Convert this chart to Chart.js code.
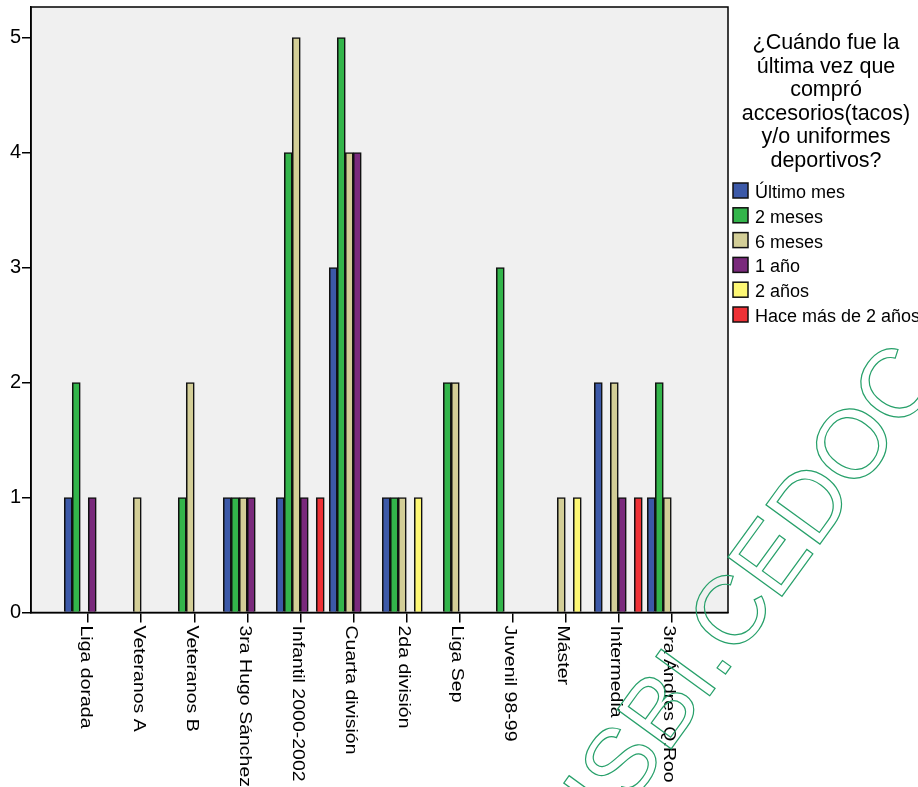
<!DOCTYPE html>
<html><head><meta charset="utf-8">
<script src="https://cdn.jsdelivr.net/npm/chart.js@4"></script>
<style>html,body{margin:0;padding:0;background:#fff}#wrap{width:918px;height:787px;position:relative}</style>
</head><body><div id="wrap"><canvas id="c" width="918" height="787"></canvas></div>
<script>
const categories = ['Liga dorada','Veteranos A','Veteranos B','3ra Hugo Sánchez','Infantil 2000-2002','Cuarta división','2da división','Liga Sep','Juvenil 98-99','Máster','Intermedia','3ra Ándres Q.Roo'];
const seriesNames = ['Último mes','2 meses','6 meses','1 año','2 años','Hace más de 2 años'];
const ultimoMes   = [1,0,0,1,1,3,1,0,0,0,2,1];
const dosMeses    = [2,0,1,1,4,5,1,2,3,0,0,2];
const seisMeses   = [0,1,2,1,5,4,1,2,0,1,2,1];
const unAno       = [1,0,0,1,1,4,0,0,0,0,1,0];
const dosAnos     = [0,0,0,0,0,0,1,0,0,1,0,0];
const masDosAnos  = [0,0,0,0,1,0,0,0,0,0,1,0];
const yTicks = [0,1,2,3,4,5];
const legendTitle = ['¿Cuándo fue la','última vez que','compró','accesorios(tacos)','y/o uniformes','deportivos?'];
const watermark = 'SISBI.CEDOC';

const colors = ['#3c59a8','#33b54b','#d3ce97','#7a2a7c','#fdf774','#ee3136'];
const allSeries = [ultimoMes,dosMeses,seisMeses,unAno,dosAnos,masDosAnos];
const FONT = '"Liberation Sans", Arial, Helvetica, sans-serif';

const datasets = allSeries.map((vals,k)=>({
  label: seriesNames[k],
  data: vals.map((v,i)=>({x:i, y: v===0 ? null : v})),
  backgroundColor: colors[k],
  borderColor: '#111',
  borderWidth: 1.6,
  borderSkipped: 'bottom',
  inflateAmount: 0.35,
  categoryPercentage: 0.905,
  barPercentage: 1.0
}));

const decor = {
  id: 'decor',
  beforeDraw(chart){
    const {ctx, chartArea:a} = chart;
    ctx.save();
    ctx.fillStyle = '#f0f0f0';
    ctx.fillRect(a.left, a.top, a.right-a.left, a.bottom-a.top);
    ctx.restore();
  },
  afterDatasetsDraw(chart){
    const {ctx, chartArea:a} = chart;
    ctx.save();
    ctx.strokeStyle = '#000';
    ctx.lineWidth = 1.5;
    ctx.strokeRect(a.left, a.top, a.right-a.left, a.bottom-a.top);
    ctx.restore();
  },
  afterDraw(chart){
    const {ctx, chartArea:a} = chart;
    const xs = chart.scales.x;
    // rotated category labels (reading top to bottom)
    ctx.save();
    ctx.fillStyle = '#000';
    ctx.font = '19.5px ' + FONT;
    ctx.textAlign = 'left';
    ctx.textBaseline = 'alphabetic';
    categories.forEach((lab,i)=>{
      const px = xs.getPixelForValue(i);
      ctx.save();
      ctx.translate(px - 7.5, a.bottom + 13);
      ctx.rotate(Math.PI/2);
      ctx.scale(1, 0.82);
      ctx.fillText(lab, 0, 0);
      ctx.restore();
    });
    ctx.restore();
    // legend
    ctx.save();
    ctx.fillStyle = '#000';
    ctx.font = '21.5px ' + FONT;
    ctx.textAlign = 'center';
    ctx.textBaseline = 'alphabetic';
    legendTitle.forEach((t,k)=>ctx.fillText(t, 826, 49 + 23.5*k));
    ctx.font = '18px ' + FONT;
    ctx.textAlign = 'left';
    chart.data.datasets.forEach((ds,k)=>{
      const base = 198 + 24.8*k;
      ctx.fillStyle = ds.backgroundColor;
      ctx.fillRect(733, base-15, 15, 15);
      ctx.strokeStyle = '#111';
      ctx.lineWidth = 1.5;
      ctx.strokeRect(733, base-15, 15, 15);
      ctx.fillStyle = '#000';
      ctx.fillText(ds.label, 755, base);
    });
    ctx.restore();
    // watermark
    ctx.save();
    ctx.strokeStyle = '#27a06a';
    ctx.lineWidth = 1.2;
    ctx.font = '97px ' + FONT;
    ctx.textAlign = 'right';
    ctx.textBaseline = 'alphabetic';
    ctx.translate(942, 376);
    ctx.rotate(-54*Math.PI/180);
    ctx.strokeText(watermark, 0, 0);
    ctx.restore();
  }
};

new Chart(document.getElementById('c'), {
  type: 'bar',
  data: { datasets },
  options: {
    responsive: false,
    animation: false,
    events: [],
    layout: { padding: { top: 7, right: 190, left: 0, bottom: 0 } },
    plugins: { legend: { display: false }, tooltip: { enabled: false } },
    scales: {
      x: {
        type: 'linear',
        min: -1.08, max: 12.07,
        offset: false,
        afterBuildTicks(s){ s.ticks = categories.map((_,i)=>({value:i})); },
        afterFit(s){ s.height = 174.5; s.paddingLeft = 0; s.paddingRight = 0; },
        ticks: { callback: ()=> '', autoSkip: false, maxRotation: 0, font: { size: 1 } },
        grid: { display: true, offset: false, drawOnChartArea: false, drawTicks: true, tickLength: 10, color: '#000', lineWidth: 1.5 },
        border: { display: true, color: '#000', width: 1.5 }
      },
      y: {
        min: 0, max: 5.265,
        afterBuildTicks(s){ s.ticks = yTicks.map(v=>({value:v})); },
        afterFit(s){ s.width = 31; s.paddingTop = 0; s.paddingBottom = 0; },
        ticks: { color: '#000', font: { family: FONT, size: 20 }, padding: 1 },
        grid: { display: true, drawOnChartArea: false, drawTicks: true, tickLength: 9, color: '#000', lineWidth: 1.5 },
        border: { display: true, color: '#000', width: 1.5 }
      }
    }
  },
  plugins: [decor]
});
</script></body></html>
